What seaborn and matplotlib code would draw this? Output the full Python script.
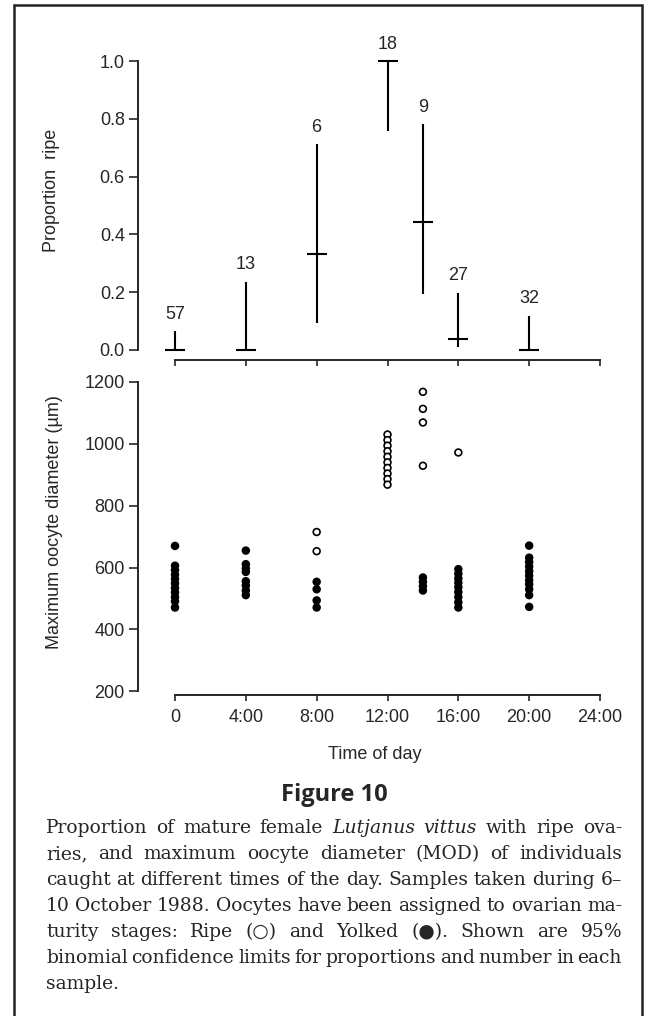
import pandas as pd
import seaborn as sns
import matplotlib
matplotlib.use("Agg")
import matplotlib.pyplot as plt
from matplotlib.patches import Rectangle

# --- data ---
times = [0, 4, 8, 12, 14, 16, 20]
n_fish = [57, 13, 6, 18, 9, 27, 32]
prop_ripe = [0.0, 0.0, 0.333, 1.0, 0.444, 0.037, 0.0]
ci_low = [0.0, 0.0, 0.094, 0.758, 0.194, 0.010, 0.0]
ci_high = [0.065, 0.236, 0.713, 1.0, 0.782, 0.198, 0.119]

# maximum oocyte diameter (um) per sample time
ripe_time = [8, 8,
             12, 12, 12, 12, 12, 12, 12, 12, 12, 12,
             14, 14, 14, 14,
             16]
ripe_mod = [715, 653,
            1030, 1012, 994, 976, 958, 940, 922, 904, 886, 868,
            1168, 1113, 1069, 929,
            972]
yolk_time = [0] * 11 + [4] * 8 + [8] * 4 + [14] * 4 + [16] * 9 + [20] * 11
yolk_mod = [670, 606, 592, 577, 563, 549, 534, 520, 505, 491, 471,
            655, 611, 597, 586, 556, 542, 526, 511,
            554, 530, 494, 471,
            568, 554, 540, 526,
            595, 580, 565, 551, 536, 521, 505, 488, 471,
            671, 632, 618, 603, 588, 574, 559, 546, 530, 511, 473]

hour_ticks = [0, 4, 8, 12, 16, 20, 24]
hour_labels = ["0", "4:00", "8:00", "12:00", "16:00", "20:00", "24:00"]

caption = [
    "Proportion of mature female _Lutjanus _vittus with ripe ova-",
    "ries, and maximum oocyte diameter (MOD) of individuals",
    "caught at different times of the day. Samples taken during 6\u2013",
    "10 October 1988. Oocytes have been assigned to ovarian ma-",
    "turity stages:  Ripe (\u25cb) and Yolked (\u25cf). Shown are 95%",
    "binomial confidence limits for proportions and number in each",
    "sample.",
]

mod = pd.DataFrame({
    "time": ripe_time + yolk_time,
    "diameter": ripe_mod + yolk_mod,
    "stage": ["Ripe"] * len(ripe_time) + ["Yolked"] * len(yolk_time),
})

sns.set_style("ticks")
plt.rcParams["font.family"] = ["Liberation Sans", "DejaVu Sans"]
plt.rcParams["axes.linewidth"] = 1.4
plt.rcParams["xtick.major.width"] = 1.2
plt.rcParams["ytick.major.width"] = 1.2

W, H = 656, 1016
fig = plt.figure(figsize=(W / 100, H / 100), dpi=100)

px_hr = (600 - 175) / 24
x_lo = -(175 - 138) / px_hr
x_hi = 24 + 12 / px_hr


def axes_px(left, top, right, bottom):
    return fig.add_axes([left / W, 1 - bottom / H, (right - left) / W, (bottom - top) / H])


# ---------- top panel: proportion ripe ----------
ax1 = axes_px(138, 55, 612, 360)
ax1.set_xlim(x_lo, x_hi)
ax1.set_ylim(-10 / 289, 1.0 + 6 / 289)
ax1.vlines(times, ci_low, ci_high, color="black", linewidth=1.5, clip_on=False)
sns.scatterplot(x=times, y=prop_ripe, marker="_", s=190, color="black",
                linewidth=1.5, ax=ax1, clip_on=False, legend=False)
for t, hi, n in zip(times, ci_high, n_fish):
    ax1.annotate(str(n), (t, hi), xytext=(0, 6), textcoords="offset points",
                 ha="center", va="bottom", fontsize=13, annotation_clip=False)
ax1.spines["left"].set_bounds(0, 1)
ax1.spines["bottom"].set_bounds(0, 24)
ax1.set_yticks([0, 0.2, 0.4, 0.6, 0.8, 1.0])
ax1.set_yticklabels(["0.0", "0.2", "0.4", "0.6", "0.8", "1.0"])
ax1.set_xticks(hour_ticks)
ax1.set_xticklabels([])
ax1.tick_params(axis="y", length=6.5, pad=3, labelsize=13)
ax1.tick_params(axis="x", length=4.3)
ax1.set_ylabel("Proportion  ripe", fontsize=13)
ax1.yaxis.set_label_coords((60 - 138) / 474, (360 - 190) / 305)
sns.despine(ax=ax1)

# ---------- bottom panel: MOD ----------
ax2 = axes_px(138, 380, 612, 695)
ax2.set_xlim(x_lo, x_hi)
ax2.set_ylim(200 - 17 * 200 / 289, 1200 + 9 * 200 / 289)
sns.scatterplot(data=mod, x="time", y="diameter", hue="stage",
                palette={"Ripe": "white", "Yolked": "black"},
                edgecolor="black", linewidth=1.2, s=24, ax=ax2,
                clip_on=False, legend=False)
ax2.spines["left"].set_bounds(200, 1200)
ax2.spines["bottom"].set_bounds(0, 24)
ax2.set_yticks([200, 400, 600, 800, 1000, 1200])
ax2.set_xticks(hour_ticks)
ax2.set_xticklabels(hour_labels)
ax2.tick_params(axis="y", length=6.5, pad=3, labelsize=13)
ax2.tick_params(axis="x", length=4.3, pad=6, labelsize=13)
ax2.set_xlabel("Time of day", fontsize=13, labelpad=14)
ax2.set_ylabel("Maximum oocyte diameter (\u00b5m)", fontsize=13)
ax2.yaxis.set_label_coords((63 - 138) / 474, (695 - 522) / 315)
sns.despine(ax=ax2)

# ---------- figure title and caption ----------
fig.text(334 / W, 1 - 795 / H, "Figure 10", ha="center", va="center",
         fontsize=17, fontweight="bold", family=["Open Sans", "DejaVu Sans"])

renderer = fig.canvas.get_renderer()
cap_x0, cap_x1 = 46, 622
cap_size = 13.5
cap_family = ["DejaVu Serif", "DejaVu Sans"]


def caption_line(text, y, justify=True):
    items = []
    for w in text.split(" "):
        if w == "":
            continue
        italic = w.startswith("_")
        w = w.lstrip("_")
        t = fig.text(0, 1 - y / H, w, ha="left", va="center", fontsize=cap_size,
                     family=cap_family, style="italic" if italic else "normal")
        items.append((t, t.get_window_extent(renderer).width))
    total = sum(wpx for _, wpx in items)
    if justify and len(items) > 1:
        gap = (cap_x1 - cap_x0 - total) / (len(items) - 1)
    else:
        gap = 0.32 * cap_size * 100 / 72
    x = cap_x0
    for t, wpx in items:
        t.set_x(x / W)
        x += wpx + gap


for i, line in enumerate(caption):
    caption_line(line, 828 + i * 26, justify=(i < len(caption) - 1))

# page frame
fig.add_artist(Rectangle((14 / W, -0.05), (642 - 14) / W, 0.05 + 1 - 5 / H,
                         transform=fig.transFigure, fill=False,
                         edgecolor="#222222", linewidth=1.8))

fig.savefig("out.png", dpi=100)
